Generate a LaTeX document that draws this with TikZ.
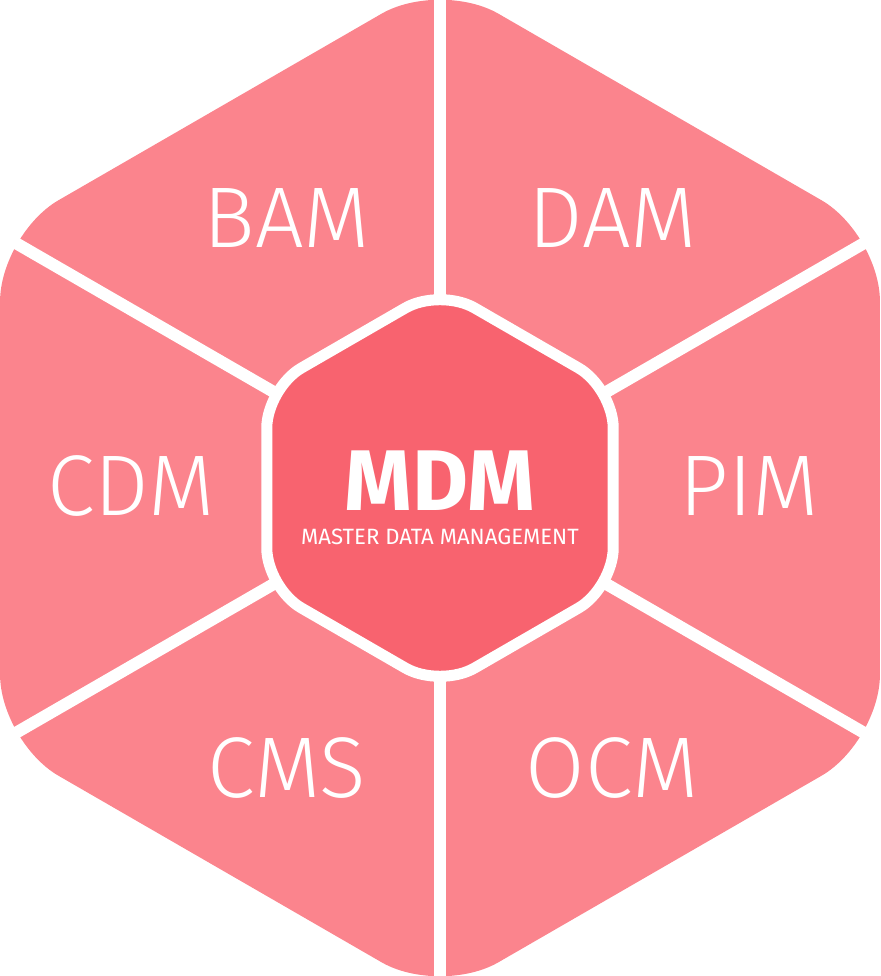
\documentclass[tikz,border=0pt]{standalone}
\usepackage{fontspec}
\setmainfont{Fira Sans}
\newfontfamily\hexlight{Fira Sans Light}
\definecolor{hexouter}{HTML}{FB848D}
\definecolor{hexinner}{HTML}{F8636F}
\tikzset{
    segmentfill/.style={
        fill=hexouter,
        rounded corners=1.35cm
    },
    segmentline/.style={
        draw=white,
        line width=0.24cm
    },
    corehex/.style={
        draw=white,
        fill=hexinner,
        line width=0.22cm,
        rounded corners=0.8cm
    },
    segmentlabel/.style={
        text=white,
        anchor=base,
        inner sep=0pt,
        font=\hexlight\fontsize{49pt}{49pt}\selectfont
    }
}

\begin{document}
\begin{tikzpicture}
    \useasboundingbox (-8.8,-9.76) rectangle (8.8,9.76);

    \coordinate (hub) at (0,0);
    \coordinate (outerNE) at (30:10.16);
    \coordinate (outerN) at (90:10.16);
    \coordinate (outerNW) at (150:10.16);
    \coordinate (outerSW) at (210:10.16);
    \coordinate (outerS) at (270:10.16);
    \coordinate (outerSE) at (330:10.16);

    \fill[segmentfill] (outerNE) -- (outerN) -- (outerNW)
        -- (outerSW) -- (outerS) -- (outerSE) -- cycle;

    \draw[segmentline] (hub) -- (outerNE);
    \draw[segmentline] (hub) -- (outerN);
    \draw[segmentline] (hub) -- (outerNW);
    \draw[segmentline] (hub) -- (outerSW);
    \draw[segmentline] (hub) -- (outerS);
    \draw[segmentline] (hub) -- (outerSE);

    \draw[corehex] (30:4.0) -- (90:4.0) -- (150:4.0)
        -- (210:4.0) -- (270:4.0) -- (330:4.0) -- cycle;

    \node[segmentlabel] (bam) at (-3.06,4.8) {BAM};
    \node[segmentlabel] (dam) at (3.46,4.8) {DAM};
    \node[segmentlabel] (cdm) at (-6.18,-0.56) {CDM};
    \node[segmentlabel] (pim) at (6.18,-0.56) {PIM};
    \node[segmentlabel] (cms) at (-3.06,-6.18) {CMS};
    \node[segmentlabel] (ocm) at (3.44,-6.18) {OCM};

    \node[segmentlabel, font=\bfseries\fontsize{49pt}{49pt}\selectfont]
        (mdm) at (0,-0.45) {MDM};
    \node[segmentlabel, font=\fontsize{12.6pt}{12.6pt}\selectfont]
        (mdmtext) at (0,-1.13) {MASTER DATA MANAGEMENT};
\end{tikzpicture}
\end{document}
